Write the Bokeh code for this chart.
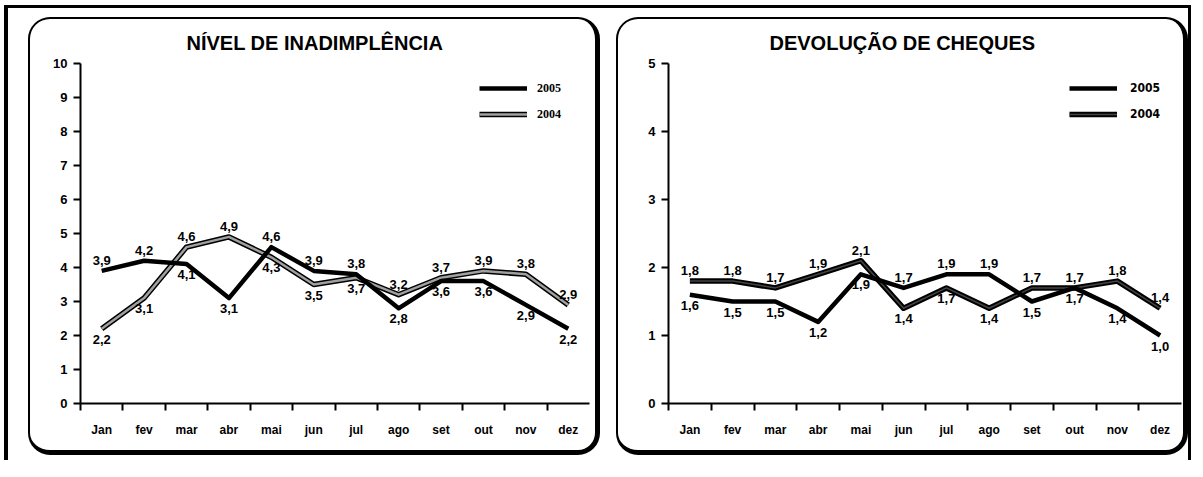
from bokeh.plotting import figure
from bokeh.models import Range1d, FixedTicker, Legend, LegendItem
from bokeh.layouts import row
from bokeh.embed import file_html
from bokeh.resources import INLINE
from bokeh.core.properties import value

months = ["Jan", "fev", "mar", "abr", "mai", "jun", "jul", "ago", "set", "out", "nov", "dez"]

inad_2005 = [3.9, 4.2, 4.1, 3.1, 4.6, 3.9, 3.8, 2.8, 3.6, 3.6, 2.9, 2.2]
inad_2004 = [2.2, 3.1, 4.6, 4.9, 4.3, 3.5, 3.7, 3.2, 3.7, 3.9, 3.8, 2.9]
inad_yticks = [0, 1, 2, 3, 4, 5, 6, 7, 8, 9, 10]

cheq_2005 = [1.6, 1.5, 1.5, 1.2, 1.9, 1.7, 1.9, 1.9, 1.5, 1.7, 1.4, 1.0]
cheq_2004 = [1.8, 1.8, 1.7, 1.9, 2.1, 1.4, 1.7, 1.4, 1.7, 1.7, 1.8, 1.4]
cheq_yticks = [0, 1, 2, 3, 4, 5]

titles = ["NÍVEL DE INADIMPLÊNCIA", "DEVOLUÇÃO DE CHEQUES"]
series_names = ["2005", "2004"]

SANS = "Liberation Sans"
PANEL_W = 572
PANEL_H = 438
FRAME_H = 341


def fmt(v):
    return f"{v:.1f}".replace(".", ",")


def panel(title, s05, s04, yticks, border_right, core_color, core_width,
          legend_loc, legend_standoff, legend_font, title_offset):
    xs = list(range(len(months)))
    p = figure(width=PANEL_W, height=PANEL_H,
               x_range=Range1d(-0.5, len(months) - 0.5),
               y_range=Range1d(yticks[0], yticks[-1]),
               output_backend="svg", toolbar_location=None, tools="",
               min_border_left=50, min_border_right=border_right,
               min_border_top=43, min_border_bottom=PANEL_H - 43 - FRAME_H)
    p.border_fill_color = None
    p.background_fill_color = None
    p.outline_line_color = None
    p.grid.visible = False
    p.styles = {"border": "2px solid black", "border-right-width": "5px",
                "border-bottom-width": "5px", "border-radius": "22px"}

    p.title.text = title
    p.title.align = "left"
    p.title.offset = title_offset
    p.title.standoff = 20
    p.title.text_font = SANS
    p.title.text_font_size = "20px"
    p.title.text_font_style = "bold"
    p.title.text_color = "black"

    # x axis: month labels at points, tick marks between months
    p.xaxis.ticker = FixedTicker(ticks=xs, minor_ticks=[i - 0.5 for i in xs])
    p.xaxis.major_label_overrides = {i: m for i, m in enumerate(months)}
    p.xaxis.major_tick_out = 0
    p.xaxis.major_tick_in = 0
    p.xaxis.minor_tick_out = 7
    p.xaxis.minor_tick_in = 0
    p.xaxis.minor_tick_line_width = 2
    p.xaxis.minor_tick_line_color = "black"
    p.xaxis.axis_line_width = 2
    p.xaxis.axis_line_color = "black"
    p.xaxis.major_label_standoff = 12
    p.xaxis.major_label_text_font = SANS
    p.xaxis.major_label_text_font_size = "12px"
    p.xaxis.major_label_text_font_style = "bold"
    p.xaxis.major_label_text_color = "black"

    # y axis
    p.yaxis.ticker = FixedTicker(ticks=yticks, minor_ticks=[])
    p.yaxis.major_tick_out = 7
    p.yaxis.major_tick_in = 0
    p.yaxis.major_tick_line_width = 2
    p.yaxis.major_tick_line_color = "black"
    p.yaxis.axis_line_width = 2
    p.yaxis.axis_line_color = "black"
    p.yaxis.major_label_standoff = 6
    p.yaxis.major_label_text_font = SANS
    p.yaxis.major_label_text_font_size = "13px"
    p.yaxis.major_label_text_font_style = "bold"
    p.yaxis.major_label_text_color = "black"

    r04a = p.line(xs, s04, line_color="black", line_width=5.5, line_join="round")
    r04b = p.line(xs, s04, line_color=core_color, line_width=core_width, line_join="round")
    r05 = p.line(xs, s05, line_color="black", line_width=4.5, line_join="round")

    # data labels: upper value above its point, lower value below
    ax, ay, at, bx, by, bt = [], [], [], [], [], []
    for i in xs:
        a, b = s05[i], s04[i]
        hi, lo = (a, b) if a > b else (b, a)
        ax.append(i); ay.append(hi); at.append(fmt(hi))
        bx.append(i); by.append(lo); bt.append(fmt(lo))
    p.text(ax, ay, text=at, text_align="center", text_baseline="bottom", y_offset=-6,
           text_font=value(SANS), text_font_size="13px", text_font_style="bold",
           text_color="black")
    p.text(bx, by, text=bt, text_align="center", text_baseline="top", y_offset=6,
           text_font=value(SANS), text_font_size="13px", text_font_style="bold",
           text_color="black")

    legend = Legend(items=[LegendItem(label=series_names[0], renderers=[r05]),
                           LegendItem(label=series_names[1], renderers=[r04a, r04b])],
                    location=legend_loc, orientation="vertical",
                    background_fill_alpha=0, border_line_alpha=0,
                    padding=0, margin=0, spacing=6,
                    glyph_width=48, glyph_height=20, label_height=20,
                    label_standoff=legend_standoff,
                    label_text_font=legend_font, label_text_font_size="12px",
                    label_text_font_style="bold", label_text_color="black")
    p.add_layout(legend)
    return p


p1 = panel(titles[0], inad_2005, inad_2004, inad_yticks, 13, "#a0a0a0", 2.5,
           (399, 279), 10, "Liberation Serif", 106)
p2 = panel(titles[1], cheq_2005, cheq_2004, cheq_yticks, 9, "#444444", 1.5,
           (401, 279), 13, "DejaVu Sans Condensed", 101)

layout = row(p1, p2, spacing=16)
layout.margin = (5, 0, 0, 4)
layout.styles = {"border-top": "3px solid black", "border-left": "4px solid black",
                 "border-right": "3px solid black",
                 "padding": "9px 0px 5px 20px"}

open("out.html", "w").write(file_html(layout, INLINE))
